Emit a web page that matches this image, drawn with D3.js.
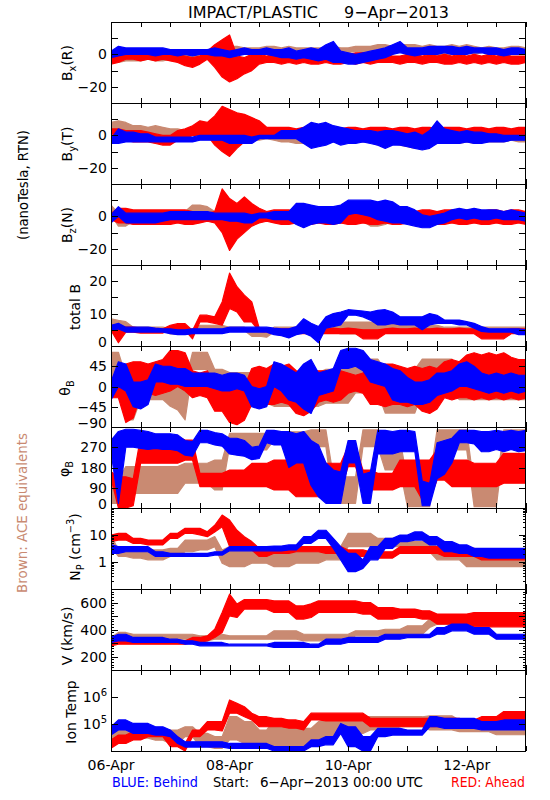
<!DOCTYPE html>
<html><head><meta charset="utf-8">
<script src="https://cdn.jsdelivr.net/npm/d3@7"></script>
<style>body{margin:0;background:#fff}text{font-family:"DejaVu Sans",sans-serif;fill:#000}</style>
</head><body><svg id="c" width="550" height="800"></svg>
<script>
// time samples: hours after 6-Apr-2013 00:00 UTC
const hours=[0,3,6,9,12,15,18,21,24,27,30,33,36,39,42,45,48,51,54,57,60,63,66,69,72,75,78,81,84,87,90,93,96,99,102,105,108,111,114,117,120,123,126,129,132,135,138,141,144,147,150,153,156,159,162,165,168];

// Bx (nT) low/high envelope
const bxBlueLo=[-2,-1,0,0,0,0,-1,0, 0,-1,0,-1,0,0,-1,-1, -2,-1,0,0,0,0,-1,-2, -2,-3,-2,-3,-4,-3,-5,-5, -6,-6,-5,-4,-3,-2,0,1, 0,-1,0,0,0,1,0,0, 0,1,1,0,0,-1,0,0, 0];
const bxBlueHi=[2,5,4,4,4,4,4,4, 3,3,3,3,3,3,4,3, 2,3,4,3,3,4,3,3, 4,2,3,4,3,6,8,2, 1,0,1,2,3,4,6,8, 4,4,4,5,5,5,5,4, 5,4,4,4,4,3,4,4, 3];
const bxRedLo=[-6,-5,-3,-3,-4,-3,-4,-3, -4,-5,-7,-8,-6,-3,-8,-14, -17,-15,-12,-10,-6,-5,-5,-6, -5,-6,-5,-6,-6,-5,-6,-6, -5,-6,-5,-6,-5,-5,-5,-6, -5,-5,-6,-5,-5,-6,-6,-5, -6,-5,-6,-5,-6,-5,-6,-6, -5];
const bxRedHi=[-1,0,2,1,1,2,1,2, 0,0,-1,-2,-1,2,6,9, 12,-1,-2,0,0,-1,0,-1, 0,-1,0,0,-1,0,0,-1, 0,1,1,0,0,0,-1,-1, 0,0,-1,0,-1,0,-1,0, -1,0,-1,0,-1,0,-1,-1, -1];
const bxBrownLo=[-4,-5,-4,-4,-4,-3,-4,-4, -3,-3,-3,-2,-3,-2,1,2, 2,2,1,1,2,2,2,1, 2,1,1,1,2,1,2,2, 1,2,1,2,2,2,2,3, 2,3,2,0,-2,-1,0,1, 2,0,1,2,1,1,2,2, 1];
const bxBrownHi=[1,0,0,0,0,0,0,0, 0,1,1,1,1,2,4,5, 5,5,4,4,4,5,5,4, 5,4,4,4,4,4,5,4, 4,5,5,5,6,6,5,6, 6,6,5,6,5,5,6,5, 6,5,4,5,4,4,5,5, 4];

// By (nT)
const byBlueLo=[-5,-5,-4,-4,-4,-4,-4,-4, -4,-4,-4,-4,-3,-3,-3,-3, -5,-5,-5,-5,-2,-2,-2,-2, -2,-2,-5,-8,-7,-6,-4,-6, -5,-5,-4,-5,-6,-8,-6,-6, -7,-8,-9,-8,-5,-5,-5,-5, -4,-5,-5,-4,-4,-4,-3,-3, -3];
const byBlueHi=[-2,4,2,2,1,1,-1,-1, -1,-1,-1,-1,0,0,0,0, 0,0,0,-1,0,0,0,3, 3,3,5,8,7,8,6,5, 4,3,3,3,2,3,3,2, 1,2,0,3,9,4,3,2, 3,2,2,1,1,0,0,0, 0];
const byRedLo=[1,0,-3,-4,-4,-4,-5,-6, -6,-3,-2,0,0,0,-6,-10, -13,-8,-4,-2,-2,-1,-1,-1, 0,-1,-1,0,-1,-1,0,-1, -1,0,-1,-1,0,-1,-1,0, -1,0,-1,-1,0,-1,0,-1, -1,0,-1,0,-1,-1,0,-1, -1];
const byRedHi=[4,4,3,3,3,2,1,0, 0,3,4,6,9,8,12,18, 16,14,13,11,9,5,5,5, 5,4,5,5,4,5,5,4, 5,5,4,5,5,5,4,5, 5,4,5,5,4,5,5,5, 4,5,5,4,5,5,4,5, 5];
const byBrownLo=[3,3,2,1,1,0,1,0, 0,0,-1,0,0,0,-3,-3, -3,-3,-3,-3,-3,-2,-3,-4, -4,-5,-5,-4,-4,-5,-4,-4, -4,-4,-4,-4,-6,-6,-5,-6, -7,-8,-7,-6,-5,-5,-5,-5, -4,-5,-4,-4,-4,-4,-3,-4, -4];
const byBrownHi=[8,9,8,6,6,5,6,5, 4,4,3,5,6,6,2,1, 0,0,0,0,0,0,0,-1, -1,-1,-1,-1,-1,-1,-1,-1, 0,0,0,0,0,-1,0,0, 0,-1,-1,0,-1,-1,0,-1, -1,-1,0,0,0,-1,0,0, 0];

// Bz (nT)
const bzBlueLo=[-4,0,-4,-4,-4,-4,-4,-3, -2,-2,-2,-2,-2,-2,-2,-2, -3,-3,-4,-4,-1,-1,-2,-2, -2,-5,-7,-5,-4,-4,-5,-4, 1,2,1,0,-2,-3,-4,-4, -5,-6,-7,-7,-5,-4,-2,-1, -2,-1,-2,-2,-1,-2,-2,-2, -3];
const bzBlueHi=[1,6,2,2,2,2,2,2, 3,3,3,3,3,3,2,2, 2,2,2,1,2,2,3,3, 3,8,8,7,6,6,6,7, 10,10,10,10,9,10,9,6, 6,4,1,0,1,2,4,5, 4,5,4,4,4,3,4,3, 2];
const bzRedLo=[-2,-4,-4,-5,-5,-5,-5,-5, -5,-4,-5,-5,-4,-3,-4,-10, -21,-14,-10,-6,-4,-3,-4,-5, -5,-4,-5,-5,-4,-5,-5,-4, -5,-5,-4,-5,-5,-4,-5,-5, -4,-5,-5,-4,-5,-5,-4,-5, -5,-4,-5,-5,-4,-5,-5,-4, -5];
const bzRedHi=[2,5,5,4,4,4,4,4, 4,4,4,3,2,2,3,17, 11,8,12,8,5,3,4,4, 4,3,4,4,3,4,4,3, 4,4,3,4,4,4,3,4, 4,3,4,4,3,4,4,3, 4,4,3,4,4,3,4,4, 3];
const bzBrownLo=[1,-6,-6,-3,-3,-3,-2,-3, -2,-2,-2,1,1,1,-2,-2, -2,-3,-2,-2,-3,-2,-3,-3, -3,-4,-3,-3,-4,-3,-3,-4, -3,-4,-3,-6,-6,-5,-3,-4, -3,-4,-5,-4,-3,-3,-3,-3, -3,-3,-3,-3,-3,-3,-3,-3, -3];
const bzBrownHi=[7,2,2,3,3,3,3,3, 3,3,3,7,7,6,3,3, 2,2,2,2,2,2,3,3, 3,3,3,3,3,3,3,3, 3,3,3,6,6,5,4,3, 4,3,3,3,3,2,2,2, 2,2,2,2,2,2,2,2, 2];

// total B (nT)
const btBlueLo=[4.8,5.3,4.3,4.3,4.3,4.3,4.3,4.3, 3.8,3.5,3.5,3.8,3.8,3.8,3.8,3.8, 4.3,4.3,4.3,4.3,4.3,4.3,3.5,3.2, 2.5,3.5,4,3,1,5.5,6,6.5, 9.5,9.5,9,8,6.5,6.5,7,6.5, 6.5,6.5,5,6.5,7,7,7,6.5, 6.5,5.5,4.5,4.3,4.3,4.3,4.3,3.5, 3.5];
const btBlueHi=[6.4,7,5.8,5.8,5.8,5.8,5.5,5.3, 5.3,5,5,5.3,5.3,5.3,5.3,5.3, 5.8,5.8,5.8,5.8,5.8,5.8,5.5,5.3, 5.3,6,8.4,7,6,9,10,10.5, 11.2,11,10.8,10.5,11,11.2,10.5,9, 9,9,9,10,9.5,8,8,8, 7.5,7,6,5.3,5.3,5.3,5.3,5.3, 5];
const btRedLo=[4.8,1,4.3,4.3,4,4,4,4, 4.8,4.8,4.8,2.2,7.4,7.4,7,6.4, 11.6,10.5,7.4,7.4,4.5,4.3,3.8,3.8, 3.8,3.8,3.8,3.8,3.8,3.8,3.8,3.8, 3.8,3.8,2.2,2.2,2.2,3.8,3.8,3.8, 3.8,3.8,3.8,3.8,3.8,3.8,3.8,3.8, 3.8,3.8,2.2,2.2,2.2,2.2,3.8,3.8, 3.8];
const btRedHi=[6.4,6,5.8,5.8,5.5,5.5,5.3,5.3, 6.4,6.9,6.9,4.8,9.5,9.5,9,13.6, 22.5,18.3,15.7,13.6,5.5,5.3,5.3,5.3, 5.3,5.5,5.3,5.5,5.3,5.3,5.5,5.3, 5.5,5.3,5,5,5,5.3,5.5,5.3, 5.3,5.5,5.3,5.3,5.5,5.3,5.3,5.5, 5.3,5.3,5,5,5,5,5.3,5.3, 5.3];
const btBrownLo=[6.4,5.3,5.3,4.8,4.8,4.8,4.8,4.8, 3.7,3.7,3.7,3.7,4.8,4.8,4.8,4.8, 4.8,4.8,4.8,3,3,2.7,4.3,4.3, 4.3,4.3,4.3,4.3,4.3,4.3,4.3,3.7, 3.7,3.7,3.7,3.7,4.8,4.8,4.8,4.8, 4.3,4.3,4.3,4.3,4.3,4.3,4.3,4.3, 4.3,4.3,4.3,4.3,4.3,4.3,4.3,4.3, 4.3];
const btBrownHi=[8.4,7.9,7.5,5.8,5.8,5.8,5.8,5.8, 5.3,5.3,5.3,5.3,6.4,6.4,6.4,6.4, 5.8,5.8,5.8,5,5,3.7,5.8,5.8, 5.8,5.8,5.8,5.8,5.8,5.8,5.8,7.4, 7.4,7.4,7.4,7.4,7.4,7.4,7.4,7.4, 6.4,6.4,6.4,6.4,6.4,5.8,5.8,5.8, 5.8,5.8,5.8,5.8,5.8,5.8,5.8,5.8, 5.8];

// theta_B (deg), dense core of each series
const thBlueLo=[-30,0,-10,-45,-50,-40,10,10, 5,5,0,0,0,0,-5,-10, -10,-5,-10,-45,-50,-45,0,-10, -30,-35,-50,-60,-20,-15,-10,40, 40,45,35,10,5,0,-30,-35, -35,-40,-40,-35,-20,-15,-10,0, 0,-5,-10,-15,-10,-15,-10,-15, -10];
const thBlueHi=[10,55,50,10,10,15,50,45, 45,40,40,30,30,30,30,25, 30,30,25,0,-5,0,55,50, 40,30,50,60,30,35,40,80, 85,85,80,60,55,50,40,35, 20,10,10,15,30,30,35,50, 55,45,30,25,30,25,30,25, 25];
const thRedLo=[-25,-25,-80,-70,-20,-15,-20,-15, -10,0,-10,-25,-20,-25,-55,-55, -80,-85,-75,-40,-35,-40,-40,-35, -40,-60,-65,-55,-35,-30,-35,-30, -15,-10,-15,-40,-40,-45,-40,-40, -45,-40,-55,-60,-50,-25,-30,-25, -25,-30,-25,-30,-25,-30,-25,-30, -25];
const thRedHi=[10,15,50,55,55,50,55,60, 80,80,75,35,30,35,5,10, -5,0,0,40,45,40,50,45, 50,35,30,35,35,35,30,35, 30,25,30,50,45,50,50,45, 40,45,40,45,40,55,60,55, 70,75,70,75,70,75,65,60, 60];
const thBrownLo=[1,1,-74,-74,-29,-29,-29,-29, -44,-52,-74,38,38,38,-14,-14, -29,-29,-29,-29,-37,-37,-44,-44, -44,-44,-44,-44,-44,-37,-37,-37, -37,-14,-14,-14,-14,-59,-59,-59, -59,-59,-14,-14,-14,-14,-14,-29, -29,-29,-29,-29,-29,-29,-29,-29, -29];
const thBrownHi=[76,76,23,23,31,31,31,31, 8,8,8,76,76,76,38,38, 31,31,31,31,38,38,31,31, 31,31,31,31,31,38,38,38, 38,61,61,61,61,38,38,38, 38,38,61,61,61,61,61,31, 31,31,31,31,31,31,31,31, 31];

// phi_B (deg)
const phBlueLo=[250,20,270,270,265,260,265,260, 260,255,235,230,290,290,280,275, 240,235,230,215,220,290,280,280, 180,200,200,100,50,21,21,21, 200,200,21,21,240,240,240,250, 250,250,10,10,130,150,200,290, 290,285,250,250,260,250,260,250, 255];
const phBlueHi=[300,340,350,350,345,340,330,330, 330,325,300,295,345,345,335,330, 310,310,300,270,275,345,345,340, 340,330,340,300,280,200,169,160, 300,300,150,160,345,345,340,345, 345,340,120,110,290,300,310,345, 345,345,340,340,345,340,345,340, 345];
const phRedLo=[132,0,0,10,199,199,199,199, 199,199,213,213,95,95,95,95, 95,95,95,95,95,95,80,80, 80,50,50,50,50,80,80,80, 184,184,80,80,80,80,80,95, 95,95,36,36,124,124,95,95, 95,95,95,95,95,110,110,110, 110];
const phRedHi=[161,139,139,130,317,317,317,317, 317,317,302,302,154,154,154,154, 169,169,169,198,198,198,213,213, 213,258,258,258,258,199,199,199, 273,273,169,169,154,154,154,213, 213,213,213,213,258,258,213,213, 213,199,199,199,199,243,243,243, 243];
const phBrownLo=[21,21,65,65,65,65,65,65, 65,65,110,110,110,110,80,80, 273,273,258,258,258,258,302,302, 302,302,302,273,273,273,21,21, 21,21,273,273,273,169,169,169, 6,6,6,6,258,258,258,258, 258,6,6,6,6,287,287,287, 287];
const phBrownHi=[124,124,184,184,184,184,184,184, 184,184,199,199,199,199,213,213, 332,332,332,332,332,332,339,339, 339,339,339,347,347,347,139,139, 139,139,347,347,347,302,302,302, 124,124,124,124,347,347,347,347, 347,95,95,95,95,347,347,347, 347];

// N_P (cm^-3)
const npBlueLo=[2.1,2.1,2.4,2.4,2.4,2.4,1.6,1.6, 1.6,1.6,1.6,1.6,1.6,1.6,1.8,1.8, 2.6,2.6,2.6,2.6,2.6,2.6,2.6,2.6, 2.8,2.8,4.9,4.9,7.5,7.5,3.2,1.2, 0.44,0.44,0.58,1.2,1.2,3.2,3.2,5.7, 5.7,6.5,6.5,4.3,4.3,2.4,2.4,2.1, 2.1,1.6,1.6,1.4,1.4,1.4,1.4,1.4, 1.4];
const npBlueHi=[4.3,3.7,3.7,3.7,3.7,3.7,2.4,2.4, 2.1,2.1,2.1,2.1,2.1,2.1,2.4,2.4, 3.7,3.7,3.7,3.7,3.7,3.7,3.9,3.9, 4.3,4.3,8.7,8.7,15,15,7.5,3.7, 2.1,2.1,1.2,3.7,3.7,7.5,7.5,10, 10,13,13,8.7,8.7,5.7,5.7,4.3, 4.3,3.2,3.2,3.2,3.2,3.2,3.2,3.2, 3.2];
const npRedLo=[5.7,6.5,6.5,4.9,4.9,4.3,4.3,4.3, 7.5,7.5,11.5,11.5,10,8.7,13,20, 3.7,3.7,3.7,2.8,1.6,1.6,2.1,2.1, 2.1,2.4,2.4,2.4,2.4,2.1,2.1,2.1, 1.6,1.6,1.6,1.4,1.4,1.4,1.4,2.1, 2.1,2.1,2.1,2.1,2.1,1.6,1.6,1.6, 1.6,1.6,1.2,1.2,1.2,1.2,1.2,1.2, 1.2];
const npRedHi=[10,11.5,11.5,7.5,7.5,6.5,6.5,6.5, 11.5,11.5,17.6,17.6,17.6,13.2,23,55, 36,15,8.7,5.7,3.2,3.2,3.2,3.2, 3.2,3.7,3.7,3.7,3.7,3.7,3.7,3.7, 2.8,2.8,2.8,2.4,2.4,2.4,2.4,3.7, 3.7,3.7,3.7,3.7,3.7,3.2,3.2,3.2, 3.2,3.2,2.8,2.8,2.8,2.8,2.8,2.8, 2.8];
const npBrownLo=[3.7,1.6,1.6,1.4,1.4,1.2,1.2,1.2, 1.6,1.6,2.4,2.4,2.8,2.8,3.7,0.9, 0.67,0.67,0.67,0.9,0.9,0.9,0.67,0.67, 0.67,0.9,0.9,0.9,0.9,1.2,1.2,1.2, 3.7,3.7,3.7,3.7,3.7,3.7,3.7,3.7, 2.4,2.4,2.4,2.4,1.2,1.2,1.2,1.2, 0.67,0.67,0.67,0.67,0.67,0.67,0.67,0.67, 0.67];
const npBrownHi=[10,2.8,2.8,3.2,3.2,2.8,2.8,2.8, 3.2,3.2,6.5,6.5,6.5,6.5,8.7,2.8, 3.7,3.7,3.7,2.8,2.8,2.8,2.4,2.4, 2.4,2.4,2.4,2.4,2.4,3.7,3.7,3.7, 11.5,11.5,11.5,11.5,7.5,7.5,7.5,7.5, 5.7,5.7,5.7,5.7,3.7,3.7,3.7,3.7, 2.4,2.4,2.4,2.4,2.4,2.4,2.4,2.4, 2.4];

// V (km/s)
const vpBlueLo=[304,316,316,304,304,304,304,304, 304,304,291,291,279,279,279,279, 279,279,279,279,279,279,267,267, 267,267,267,267,267,291,291,291, 304,304,304,304,304,328,328,328, 340,340,340,340,365,365,390,390, 390,365,365,365,328,328,328,328, 328];
const vpBlueHi=[341,365,365,341,341,341,341,341, 328,328,316,316,304,304,304,304, 291,291,291,291,291,291,304,304, 304,304,304,291,291,328,328,328, 341,341,341,341,341,365,365,365, 365,365,365,365,415,415,440,440, 440,415,415,415,365,365,365,365, 365];
const vpRedLo=[279,291,291,291,291,291,291,291, 291,291,291,304,304,316,341,378, 501,489,551,551,551,551,526,526, 526,477,477,489,526,526,526,526, 526,526,514,514,477,477,477,489, 489,489,477,477,440,440,440,440, 440,420,420,420,420,420,420,420, 420];
const vpRedHi=[316,328,328,328,328,328,328,328, 316,316,316,341,341,353,402,526, 662,588,622,622,622,622,612,612, 612,575,575,590,612,612,612,612, 612,612,600,600,563,563,563,551, 551,551,538,538,514,514,514,514, 514,526,526,526,526,526,526,526, 526];
const vpBrownLo=[304,328,328,328,328,328,328,328, 328,328,328,328,316,316,328,328, 328,328,328,328,328,328,328,328, 328,328,316,316,316,316,328,328, 328,353,353,353,353,353,353,353, 365,365,365,415,440,440,440,440, 440,440,440,440,440,440,440,440, 440];
const vpBrownHi=[341,378,378,365,365,365,365,365, 365,365,365,365,353,353,365,365, 353,353,353,353,353,353,390,390, 390,390,365,365,365,365,365,365, 365,390,390,390,390,402,402,402, 427,427,427,477,477,477,477,477, 477,477,477,477,477,477,477,477, 477];

// Ion temperature (K)
const tiBlueLo=[39e3,60e3,60e3,45e3,45e3,45e3,39e3,39e3, 34e3,19e3,14e3,14e3,14e3,14e3,14e3,14e3, 12.6e3,12.6e3,12.6e3,12.6e3,12.6e3,12.6e3,10e3,10e3, 10e3,10e3,10e3,14.5e3,14.5e3,17e3,17e3,45e3, 14.5e3,14.5e3,10e3,10e3,34e3,34e3,39e3,39e3, 39e3,39e3,39e3,79e3,79e3,69e3,69e3,69e3, 69e3,69e3,60e3,60e3,60e3,60e3,60e3,60e3, 60e3];
const tiBlueHi=[79e3,141e3,141e3,105e3,105e3,105e3,79e3,79e3, 60e3,34e3,22e3,22e3,22e3,22e3,22e3,22e3, 19e3,19e3,19e3,19e3,19e3,19e3,14.5e3,14.5e3, 14.5e3,14.5e3,14.5e3,25.7e3,25.7e3,34e3,34e3,105e3, 79e3,79e3,34e3,34e3,69e3,69e3,69e3,69e3, 60e3,60e3,60e3,186e3,186e3,162e3,162e3,162e3, 162e3,162e3,123e3,123e3,123e3,141e3,141e3,141e3, 141e3];
const tiRedLo=[12.6e3,19e3,19e3,25.7e3,25.7e3,34e3,34e3,34e3, 14.5e3,14.5e3,10e3,34e3,34e3,60e3,60e3,55e3, 251e3,251e3,186e3,141e3,79e3,79e3,79e3,79e3, 70e3,70e3,60e3,141e3,141e3,130e3,130e3,130e3, 130e3,130e3,130e3,79e3,79e3,79e3,79e3,79e3, 79e3,79e3,79e3,79e3,79e3,79e3,79e3,79e3, 69e3,69e3,79e3,79e3,79e3,90e3,90e3,90e3, 90e3];
const tiRedHi=[25.7e3,39e3,39e3,52e3,52e3,69e3,69e3,69e3, 34e3,34e3,19e3,60e3,60e3,123e3,123e3,123e3, 776e3,589e3,437e3,251e3,186e3,186e3,162e3,162e3, 141e3,141e3,123e3,251e3,251e3,251e3,251e3,251e3, 251e3,251e3,251e3,162e3,162e3,162e3,162e3,162e3, 162e3,162e3,162e3,162e3,162e3,162e3,162e3,162e3, 141e3,141e3,186e3,186e3,186e3,290e3,290e3,290e3, 290e3];
const tiBrownLo=[14.5e3,34e3,34e3,30e3,30e3,30e3,25e3,25e3, 19e3,19e3,34e3,34e3,14.5e3,14.5e3,12.6e3,12.6e3, 25.7e3,25.7e3,19e3,19e3,19e3,19e3,14.5e3,14.5e3, 14.5e3,14.5e3,14.5e3,14.5e3,25.7e3,25.7e3,25.7e3,45e3, 45e3,45e3,45e3,60e3,60e3,60e3,60e3,79e3, 79e3,79e3,79e3,60e3,60e3,60e3,60e3,52e3, 52e3,52e3,52e3,52e3,40e3,40e3,40e3,40e3, 40e3];
const tiBrownHi=[34e3,69e3,69e3,79e3,79e3,79e3,60e3,60e3, 60e3,60e3,79e3,79e3,45e3,45e3,34e3,34e3, 186e3,186e3,123e3,123e3,60e3,60e3,141e3,141e3, 141e3,69e3,69e3,69e3,123e3,123e3,123e3,186e3, 186e3,186e3,186e3,186e3,186e3,186e3,186e3,186e3, 186e3,186e3,186e3,200e3,200e3,200e3,200e3,141e3, 141e3,141e3,141e3,141e3,123e3,123e3,123e3,123e3, 123e3];

// tick labels
const dateLabels=['06-Apr','08-Apr','10-Apr','12-Apr'];
const bTickVals=[-20,0], bTickText=['\u221220','0'];
const btTickVals=[0,10,20], btTickText=['0','10','20'];
const thTickVals=[45,0,-45,-90], thTickText=['45','0','\u221245','\u221290'];
const phTickVals=[270,180,90,0], phTickText=['270','180','90','0'];
const npTickVals=[10,1], npTickText=['10','1'];
const vpTickVals=[600,400,200], vpTickText=['600','400','200'];
const tiTickVals=[1e6,1e5], tiTickText=['6','5'];

const COL={brown:'#c98a72',red:'#ff0000',blue:'#0000ff'};
const svg=d3.select('#c');
const X0=111,X1=526,TOP=22,PH=81;
const T0=Date.UTC(2013,3,6);
const x=d3.scaleUtc().domain([new Date(T0),new Date(T0+7*864e5)]).range([X0,X1]);
const tx=h=>x(new Date(T0+h*36e5));

function mk(lin,dom,k){const y0=TOP+k*PH,y1=y0+PH;return (lin?d3.scaleLinear():d3.scaleLog()).domain(dom).range([y1,y0]).clamp(true);}
const logMinor=(a,b)=>{const r=[];for(let d=a;d<b;d*=10)for(let m=2;m<10;m++)r.push(d*m);return r;};

const panels=[
 {lin:1,dom:[-30,20],major:[-20,-10,0,10],minor:[],tv:bTickVals,tt:bTickText,s:[[bxBrownLo,bxBrownHi],[bxRedLo,bxRedHi],[bxBlueLo,bxBlueHi]],title:[['B'],['x','sub'],['(R)']],bx:72,cy:63},
 {lin:1,dom:[-30,20],major:[-20,-10,0,10],minor:[],tv:bTickVals,tt:bTickText,s:[[byBrownLo,byBrownHi],[byRedLo,byRedHi],[byBlueLo,byBlueHi]],title:[['B'],['y','sub'],['(T)']],bx:72,cy:144},
 {lin:1,dom:[-30,20],major:[-20,-10,0,10],minor:[],tv:bTickVals,tt:bTickText,s:[[bzBrownLo,bzBrownHi],[bzRedLo,bzRedHi],[bzBlueLo,bzBlueHi]],title:[['B'],['z','sub'],['(N)']],bx:72,cy:225},
 {lin:1,dom:[0,25],major:[5,10,15,20],minor:[],tv:btTickVals,tt:btTickText,s:[[btBrownLo,btBrownHi],[btRedLo,btRedHi],[btBlueLo,btBlueHi]],title:[['total B']],bx:80,cy:307},
 {lin:1,dom:[-90,90],major:[-45,0,45],minor:[],tv:thTickVals,tt:thTickText,s:[[thBrownLo,thBrownHi],[thRedLo,thRedHi],[thBlueLo,thBlueHi]],title:[['\u03b8'],['B','sub']],bx:70,cy:388},
 {lin:1,dom:[0,360],major:[90,180,270],minor:[],tv:phTickVals,tt:phTickText,s:[[phBrownLo,phBrownHi],[phRedLo,phRedHi],[phBlueLo,phBlueHi]],title:[['\u03c6'],['B','sub']],bx:69,cy:469},
 {lin:0,dom:[0.1,100],major:[1,10],minor:logMinor(0.1,100),tv:npTickVals,tt:npTickText,s:[[npBrownLo,npBrownHi],[npRedLo,npRedHi],[npBlueLo,npBlueHi]],title:[['N'],['P','sub'],[' (cm'],['\u22123','sup'],[')']],bx:80,cy:547},
 {lin:1,dom:[100,700],major:[200,300,400,500,600],minor:d3.range(120,700,20).filter(v=>v%100),tv:vpTickVals,tt:vpTickText,s:[[vpBrownLo,vpBrownHi],[vpRedLo,vpRedHi],[vpBlueLo,vpBlueHi]],title:[['V (km/s)']],bx:72,cy:636},
 {lin:0,dom:[1e4,1e7],major:[1e5,1e6],minor:[],tv:tiTickVals,tt:tiTickText,sup:true,s:[[tiBrownLo,tiBrownHi],[tiRedLo,tiRedHi],[tiBlueLo,tiBlueHi]],title:[['Ion Temp']],bx:76,cy:712}
];

function parts(sel,arr,fs){
  let shift=0;
  arr.forEach(([t,k])=>{
    const ts=sel.append('tspan').text(t);
    let target=k==='sub'?4:k==='sup'?-6:0;
    ts.attr('dy',target-shift);shift=target;
    if(k) ts.attr('font-size',fs*0.7);
  });
}
const defs=svg.append('defs');
const xt=d3.range(0,169,12);
panels.forEach((p,k)=>{
  const y=mk(p.lin,p.dom,k);
  const yT=TOP+k*PH,yB=yT+PH;
  defs.append('clipPath').attr('id','cp'+k).append('rect').attr('x',X0).attr('y',yT).attr('width',X1-X0).attr('height',PH);
  const g=svg.append('g').attr('clip-path','url(#cp'+k+')');
  const cols=['brown','red','blue'].map(c=>COL[c]);
  p.s.forEach(([lo,hi],j)=>{
    const area=d3.area().x(h=>tx(h)).y0((h,i)=>y(lo[i])).y1((h,i)=>y(hi[i]));
    g.append('path').datum(hours).attr('d',area).attr('fill',cols[j]).attr('stroke',cols[j]).attr('stroke-width',1.2).attr('stroke-linejoin','round');
  });
  const a=svg.append('g').attr('stroke','#000').attr('stroke-width',1).attr('fill','none');
  a.append('rect').attr('x',X0+0.5).attr('y',yT+0.5).attr('width',X1-X0-1).attr('height',PH);
  p.major.forEach(v=>{const yy=Math.round(y(v))+0.5;
    a.append('line').attr('x1',X0).attr('x2',X0+7).attr('y1',yy).attr('y2',yy);
    a.append('line').attr('x1',X1-7).attr('x2',X1).attr('y1',yy).attr('y2',yy);});
  p.minor.forEach(v=>{const yy=Math.round(y(v))+0.5;
    a.append('line').attr('x1',X0).attr('x2',X0+3).attr('y1',yy).attr('y2',yy);
    a.append('line').attr('x1',X1-3).attr('x2',X1).attr('y1',yy).attr('y2',yy);});
  xt.forEach(h=>{const xx=Math.round(tx(h))+0.5;
    a.append('line').attr('x1',xx).attr('x2',xx).attr('y1',yT).attr('y2',yT+5);
    a.append('line').attr('x1',xx).attr('x2',xx).attr('y1',yB-5).attr('y2',yB);});
  p.tv.forEach((v,i)=>{
    let yy=y(v); if(yy>yB-3) yy=yB-4;
    const t=svg.append('text').attr('x',X0-4).attr('y',yy).attr('dy','0.36em').attr('text-anchor','end').attr('font-size',14);
    if(p.sup){t.append('tspan').text('10');t.append('tspan').text(p.tt[i]).attr('dy',-6).attr('font-size',10);}
    else t.text(p.tt[i]);
  });
  const tl=svg.append('text').attr('transform','translate('+p.bx+','+p.cy+') rotate(-90)').attr('text-anchor','middle').attr('font-size',14);
  parts(tl,p.title,14);
});

// x-axis date labels
const dateH=[0,48,96,144];
dateLabels.forEach((s,i)=>svg.append('text').attr('x',tx(dateH[i])).attr('y',770).attr('text-anchor','middle').attr('font-size',14).attr('textLength',47).attr('lengthAdjust','spacingAndGlyphs').text(s));

// titles and legends
svg.append('text').attr('x',188).attr('y',18).attr('font-size',16).attr('textLength',130).attr('lengthAdjust','spacingAndGlyphs').text('IMPACT/PLASTIC');
svg.append('text').attr('x',344).attr('y',18).attr('font-size',16).attr('textLength',105).attr('lengthAdjust','spacingAndGlyphs').text('9\u2212Apr\u22122013');
svg.append('text').attr('x',112).attr('y',787).attr('font-size',14).attr('textLength',86).attr('lengthAdjust','spacingAndGlyphs').style('fill',COL.blue).text('BLUE: Behind');
svg.append('text').attr('x',213).attr('y',787).attr('font-size',14).attr('textLength',36).attr('lengthAdjust','spacingAndGlyphs').text('Start:');
svg.append('text').attr('x',260).attr('y',787).attr('font-size',14).attr('textLength',163).attr('lengthAdjust','spacingAndGlyphs').text('6\u2212Apr\u22122013 00:00 UTC');
svg.append('text').attr('x',451).attr('y',787).attr('font-size',14).attr('textLength',74).attr('lengthAdjust','spacingAndGlyphs').style('fill',COL.red).text('RED: Ahead');
svg.append('text').attr('transform','translate(28,185) rotate(-90)').attr('text-anchor','middle').attr('font-size',14).attr('textLength',110).attr('lengthAdjust','spacingAndGlyphs').text('(nanoTesla, RTN)');
svg.append('text').attr('transform','translate(27,513) rotate(-90)').attr('text-anchor','middle').attr('font-size',14).attr('textLength',160).attr('lengthAdjust','spacingAndGlyphs').style('fill',COL.brown).text('Brown: ACE equivalents');
</script></body></html>
